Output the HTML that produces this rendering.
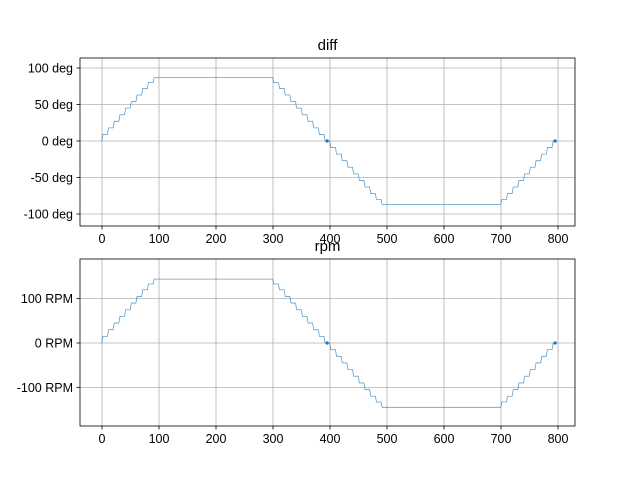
<!DOCTYPE html>
<html><head><meta charset="utf-8"><style>
body{margin:0;background:#fff;}
svg{display:block;font-family:"Liberation Sans","DejaVu Sans",sans-serif;}
</style></head><body>
<svg id="chart" width="640" height="480" viewBox="0 0 640 480"></svg>
<script>
const xTicks=[0,100,200,300,400,500,600,700,800];
const degTicks=[100,50,0,-50,-100];
const degTickLabels=["100 deg","50 deg","0 deg","-50 deg","-100 deg"];
const rpmTicks=[100,0,-100];
const rpmTickLabels=["100 RPM","0 RPM","-100 RPM"];
const stepX=[0,10,20,30,40,50,60,70,80,90,100,110,120,130,140,150,160,170,180,190,200,210,220,230,240,250,260,270,280,290,300,310,320,330,340,350,360,370,380,390,400,410,420,430,440,450,460,470,480,490,500,510,520,530,540,550,560,570,580,590,600,610,620,630,640,650,660,670,680,690,700,710,720,730,740,750,760,770,780,790];
const diffValues=[9,18,27,36,45,54,63,72,80,87,87,87,87,87,87,87,87,87,87,87,87,87,87,87,87,87,87,87,87,87,80,72,63,54,45,36,27,18,9,0,-9,-18,-27,-36,-45,-54,-63,-72,-80,-87,-87,-87,-87,-87,-87,-87,-87,-87,-87,-87,-87,-87,-87,-87,-87,-87,-87,-87,-87,-87,-80,-72,-63,-54,-45,-36,-27,-18,-9,0];
const rpmValues=[15,30,45,60,75,90,105,120,133,144,144,144,144,144,144,144,144,144,144,144,144,144,144,144,144,144,144,144,144,144,133,120,105,90,75,60,45,30,15,0,-15,-30,-45,-60,-75,-90,-105,-120,-133,-145,-145,-145,-145,-145,-145,-145,-145,-145,-145,-145,-145,-145,-145,-145,-145,-145,-145,-145,-145,-145,-133,-120,-105,-90,-75,-60,-45,-30,-15,0];
const NS="http://www.w3.org/2000/svg";
const svg=document.getElementById('chart');
function mk(t,a,p){const e=document.createElementNS(NS,t);for(const k in a)e.setAttribute(k,a[k]);(p||svg).appendChild(e);return e;}
const X=v=>102+v*0.57;
function panel(name,top,bottom,yMap,ticks,labels,vals,title){
  const g=mk('g',{});
  
  
  xTicks.forEach(t=>{const l=mk('line',{x1:X(t),x2:X(t),y1:top,y2:bottom,stroke:'#b0b0b0','stroke-width':0.8},g);
    });
  ticks.forEach(t=>{const l=mk('line',{x1:80,x2:575,y1:yMap(t),y2:yMap(t),stroke:'#b0b0b0','stroke-width':0.8},g);
    });
  let d='M'+X(0)+' '+yMap(0);
  let prev=0;
  stepX.forEach((x,i)=>{const y=yMap(vals[i]);
    d+=' L'+X(x-0.5)+' '+yMap(prev)+' L'+X(x+1.5)+' '+y+' L'+X(Math.min(x+9.5,795))+' '+y;
    prev=vals[i];});
  const p=mk('path',{d:d,fill:'none',stroke:'#1f77b4','stroke-width':0.8,'stroke-opacity':0.7},g);
  
  [395,795].forEach(x=>{const c=mk('circle',{cx:X(x),cy:yMap(0),r:1.6,fill:'#1f77b4'},g);
    });
  const r=mk('rect',{x:80,y:top,width:495,height:bottom-top,fill:'none',stroke:'#000','stroke-width':0.8},g);
  
  xTicks.forEach(t=>{mk('line',{x1:X(t),x2:X(t),y1:bottom,y2:bottom+3.5,stroke:'#000','stroke-width':0.8},g);
    const tx=mk('text',{x:X(t),y:bottom+17,'text-anchor':'middle','font-size':12.5,fill:'#000'},g);tx.textContent=t;
    });
  ticks.forEach((t,i)=>{mk('line',{x1:76.5,x2:80,y1:yMap(t),y2:yMap(t),stroke:'#000','stroke-width':0.8},g);
    const tx=mk('text',{x:73,y:yMap(t)+4.5,'text-anchor':'end','font-size':12.5,fill:'#000'},g);tx.textContent=labels[i];
    });
  const tt=mk('text',{x:327.5,y:top-8,'text-anchor':'middle','font-size':15,fill:'#000'},g);tt.textContent=title;
  
}
panel('diff',58,226,v=>141-v*0.73,degTicks,degTickLabels,diffValues,'diff');
panel('rpm',259,426,v=>343-v*0.4435,rpmTicks,rpmTickLabels,rpmValues,'rpm');
</script>
</body></html>
